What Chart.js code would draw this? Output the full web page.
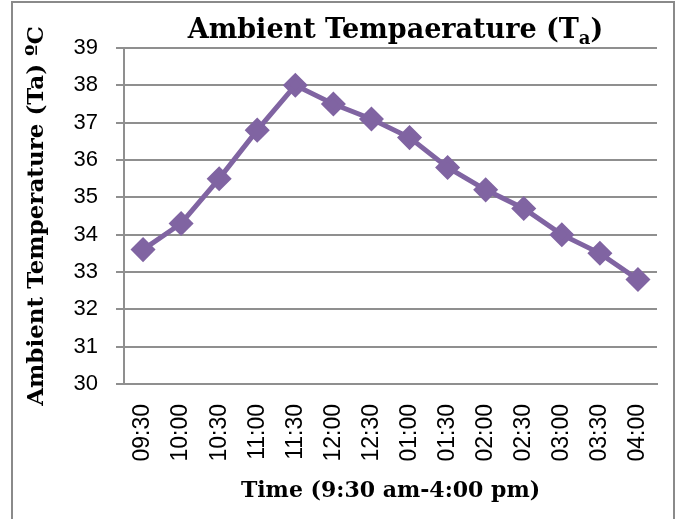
<!DOCTYPE html>
<html>
<head>
<meta charset="utf-8">
<script src="https://cdn.jsdelivr.net/npm/chart.js@4.4.1/dist/chart.umd.min.js"></script>
<style>
  html, body { margin: 0; padding: 0; background: #fff; }
  #wrap { position: relative; width: 677px; height: 519px; overflow: hidden; }
  #frame { position: absolute; left: 11px; top: 1px; width: 660px; height: 540px; border: 2px solid #8a8a8a; }
  canvas { position: absolute; left: 0; top: 0; }
</style>
</head>
<body>
<div id="wrap">
  <div id="frame"></div>
  <canvas id="chart" width="677" height="519"></canvas>
</div>
<script>
// time of day, 30 min steps
const times = ['09:30', '10:00', '10:30', '11:00', '11:30', '12:00', '12:30',
  '01:00', '01:30', '02:00', '02:30', '03:00', '03:30', '04:00'];
// ambient temperature Ta, degC
const ambient = [33.6, 34.3, 35.5, 36.8, 38.0, 37.5, 37.1, 36.6, 35.8, 35.2, 34.7, 34.0, 33.5, 32.8];
const yMin = 30;
const yMax = 39;

const titleMain = 'Ambient Tempaerature (T';
const titleSub = 'a';
const titleEnd = ')';
const yTitle = 'Ambient Temperature (Ta) ºC';
const xTitle = 'Time (9:30 am-4:00 pm)';

const serif = '"DejaVu Serif", "Liberation Serif", serif';
const sans = '"Liberation Sans", Arial, sans-serif';
const purple = '#8064A2';
const gridGrey = '#8f8f8f';

// title with a real subscript, centred over the plot area
const subTitle = {
  id: 'subTitle',
  afterDraw(chart) {
    const ctx = chart.ctx;
    const area = chart.chartArea;
    const big = 'bold 27px ' + serif;
    const small = 'bold 18px ' + serif;
    ctx.save();
    ctx.fillStyle = '#000';
    ctx.textBaseline = 'alphabetic';
    ctx.font = big;
    const w1 = ctx.measureText(titleMain).width;
    const w3 = ctx.measureText(titleEnd).width;
    ctx.font = small;
    const w2 = ctx.measureText(titleSub).width;
    let x = (area.left + area.right) / 2 + 5 - (w1 + w2 + w3) / 2;
    const base = 38;
    ctx.font = big;
    ctx.fillText(titleMain, x, base);
    x += w1;
    ctx.font = small;
    ctx.fillText(titleSub, x, base + 6);
    x += w2;
    ctx.font = big;
    ctx.fillText(titleEnd, x, base);
    ctx.restore();
  }
};

new Chart(document.getElementById('chart'), {
  type: 'line',
  data: {
    labels: times,
    datasets: [{
      label: 'Ta',
      data: ambient,
      borderColor: purple,
      backgroundColor: purple,
      borderWidth: 5,
      pointStyle: 'rectRot',
      pointRadius: 9,
      pointHoverRadius: 9,
      tension: 0
    }]
  },
  options: {
    responsive: false,
    animation: false,
    devicePixelRatio: 1,
    layout: { padding: { top: 48, right: 20, left: 0, bottom: 0 } },
    plugins: { legend: { display: false }, tooltip: { enabled: false }, title: { display: false } },
    scales: {
      x: {
        offset: true,
        grid: { display: false, drawTicks: false },
        border: { display: true, color: gridGrey, width: 2 },
        ticks: {
          color: '#000',
          font: { family: sans, size: 23 },
          maxRotation: 90,
          minRotation: 90,
          padding: 20,
          autoSkip: false
        },
        title: {
          display: true,
          text: xTitle,
          color: '#000',
          font: { family: serif, size: 22, weight: 'bold' },
          padding: { top: 0, bottom: 15 }
        },
        afterFit(scale) {
          scale.height = 135;
          scale.paddingLeft = 0;
          scale.paddingRight = 0;
        }
      },
      y: {
        min: yMin,
        max: yMax,
        grid: { color: gridGrey, lineWidth: 2, tickLength: 8, drawTicks: true },
        border: { display: true, color: gridGrey, width: 2 },
        ticks: {
          stepSize: 1,
          color: '#000',
          font: { family: sans, size: 22 },
          padding: 18
        },
        title: {
          display: true,
          text: yTitle,
          color: '#000',
          font: { family: serif, size: 23, weight: 'bold' },
          padding: { top: 23, bottom: 0 }
        },
        afterFit(scale) { scale.width = 124; }
      }
    }
  },
  plugins: [subTitle]
});
</script>
</body>
</html>
